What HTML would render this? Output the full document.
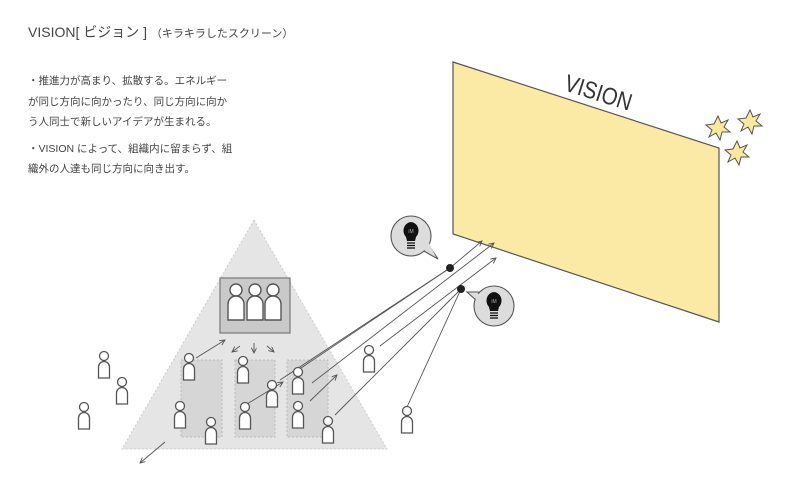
<!DOCTYPE html>
<html><head><meta charset="utf-8"><style>
html,body{margin:0;padding:0;background:#fff;}
body{width:800px;height:499px;overflow:hidden;position:relative;font-family:"Liberation Sans","Noto Sans CJK JP",sans-serif;color:#444;}
.t{position:absolute;left:28px;top:22px;font-size:14px;white-space:nowrap;}
.t small{font-size:11px;}
.b{position:absolute;left:28px;top:71px;font-size:10.5px;line-height:20.5px;white-space:nowrap;}
svg{position:absolute;left:0;top:0;}
</style></head><body>
<div class="t">VISION[ ビジョン ] <small>（キラキラしたスクリーン）</small></div>
<div class="b">・推進力が高まり、拡散する。エネルギー<br>が同じ方向に向かったり、同じ方向に向か<br>う人同士で新しいアイデアが生まれる。<br><div style="height:6px"></div>・VISION によって、組織内に留まらず、組<br>織外の人達も同じ方向に向き出す。</div>
<svg width="800" height="499" viewBox="0 0 800 499">
<defs>
<g id="p"><circle cx="0" cy="0" r="4.5" fill="#fff" stroke="#555" stroke-width="1.3"/><path d="M-5.5,22 V11 A5.5,5.5 0 0 1 5.5,11 V22 Z" fill="#fff" stroke="#555" stroke-width="1.3"/></g>
<g id="bp"><circle cx="0" cy="0" r="6" fill="#fff" stroke="#555" stroke-width="1.4"/><path d="M-8,30 V14 A8,8 0 0 1 8,14 V30 Z" fill="#fff" stroke="#555" stroke-width="1.4"/></g>
<marker id="a" markerWidth="8" markerHeight="8" refX="6" refY="3" orient="auto"><path d="M0,0 L6,3 L0,6" fill="none" stroke="#555" stroke-width="1"/></marker>
<g id="star"><polygon points="0,-12 3,-5 10,-8 6,-1 12,4 4,4 2,12 -2,5 -9,9 -6,2 -12,-3 -4,-4" fill="#fbe9a0" stroke="#555" stroke-width="1"/></g>
<g id="bulb"><path d="M-5,2 A7.5,8.5 0 1 1 5,2 L4,6 L-4,6 Z" fill="#111"/><g stroke="#111" stroke-width="1.3"><line x1="-4" y1="8" x2="4" y2="8"/><line x1="-4" y1="10.5" x2="4" y2="10.5"/><line x1="-4" y1="13" x2="4" y2="13"/></g><text x="0" y="-2" font-size="5" fill="#aaa" text-anchor="middle">iM</text></g>
</defs>
<polygon points="254,220 387,449 122,449" fill="#e5e5e5" stroke="#ccc" stroke-dasharray="2,2"/>
<g fill="#d6d6d6" stroke="#bbb" stroke-dasharray="2,2">
<rect x="181" y="360" width="41" height="77"/><rect x="235" y="360" width="40" height="77"/><rect x="287" y="360" width="41" height="77"/>
</g>
<rect x="220" y="278" width="70" height="55" fill="#c9c9c9" stroke="#777" stroke-width="1.2"/>
<use href="#bp" x="236" y="290"/><use href="#bp" x="255" y="290"/><use href="#bp" x="273" y="290"/>
<polygon points="453,62 719,148 719,322 453,234" fill="#fbe9a6" stroke="#555" stroke-width="1.2"/>
<text x="0" y="0" font-size="24" fill="#333" transform="translate(563,90) rotate(17.5) scale(0.85,1)">VISION</text>
<use href="#star" x="718" y="128"/><use href="#star" x="750" y="122"/><use href="#star" x="737" y="153"/>
<g stroke="#555" stroke-width="0.9" fill="none">
<line x1="196" y1="358" x2="225" y2="340" marker-end="url(#a)"/>
<line x1="247" y1="404" x2="283" y2="382" marker-end="url(#a)"/>
<line x1="310" y1="401" x2="337" y2="375" marker-end="url(#a)"/>
<line x1="165" y1="442" x2="140" y2="463" marker-end="url(#a)"/>
<line x1="240" y1="346" x2="232" y2="352" marker-end="url(#a)"/>
<line x1="254" y1="343" x2="254" y2="353" marker-end="url(#a)"/>
<line x1="267" y1="346" x2="274" y2="352" marker-end="url(#a)"/>
<line x1="301" y1="368" x2="450" y2="268"/>
<line x1="280" y1="380" x2="450" y2="268"/>
<line x1="450" y1="268" x2="482" y2="241" marker-end="url(#a)"/>
<line x1="312" y1="383" x2="494" y2="243" marker-end="url(#a)"/>
<line x1="380" y1="346" x2="496" y2="258" marker-end="url(#a)"/>
<line x1="335" y1="415" x2="461" y2="289"/>
<line x1="407" y1="407" x2="461" y2="289"/>
</g>
<circle cx="450" cy="268" r="4" fill="#222"/><circle cx="461" cy="289" r="4" fill="#222"/>
<use href="#p" x="104" y="356"/><use href="#p" x="122" y="382"/><use href="#p" x="84" y="407"/>
<use href="#p" x="189" y="358"/><use href="#p" x="243" y="361"/><use href="#p" x="272" y="385"/>
<use href="#p" x="298" y="372"/><use href="#p" x="180" y="406"/><use href="#p" x="211" y="422"/>
<use href="#p" x="245" y="407"/><use href="#p" x="298" y="406"/><use href="#p" x="328" y="421"/>
<use href="#p" x="369" y="350"/><use href="#p" x="407" y="411"/>
<g>
<polygon points="422,250 438,259 428,244" fill="#dcdcdc" stroke="#555" stroke-width="1.1"/>
<circle cx="411" cy="236" r="20" fill="#dcdcdc" stroke="#555" stroke-width="1.1"/>
<polygon points="424,250 436,257 429,243" fill="#dcdcdc"/>
<use href="#bulb" x="411" y="235"/>
<polygon points="481,292 467,292 477,301" fill="#dcdcdc" stroke="#555" stroke-width="1.1"/>
<circle cx="494" cy="306" r="20" fill="#dcdcdc" stroke="#555" stroke-width="1.1"/>
<polygon points="480,294 469,293 477,300" fill="#dcdcdc"/>
<use href="#bulb" x="494" y="305"/>
</g>
</svg>
</body></html>
